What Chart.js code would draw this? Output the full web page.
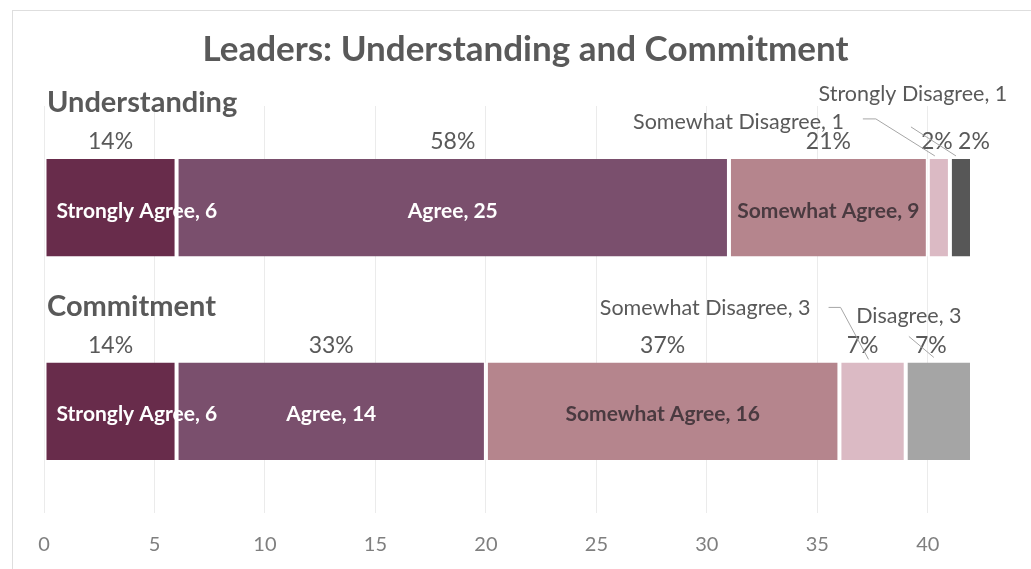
<!DOCTYPE html>
<html>
<head>
<meta charset="utf-8">
<script src="https://cdn.jsdelivr.net/npm/chart.js@4.4.1/dist/chart.umd.min.js"></script>
<style>
    html, body { margin: 0; padding: 0; background: #fff; overflow: hidden; }
    #frame {
        position: absolute; left: 12px; top: 10px; right: -4px; bottom: -4px;
        border: 1px solid #dedede;
    }
    #chart { position: absolute; left: 0; top: 0; }
</style>
</head>
<body>
<div id="frame"></div>
<canvas id="chart" width="1031" height="569"></canvas>
<script>
// ===== DATA =====
var chartTitle = 'Leaders: Understanding and Commitment';
var categories = ['Understanding', 'Commitment'];
var seriesNames = ['Strongly Agree', 'Agree', 'Somewhat Agree', 'Somewhat Disagree', 'Disagree', 'Strongly Disagree'];
// counts per category, one entry per series
var understandingCounts = [6, 25, 9, 1, 0, 1];
var commitmentCounts = [6, 14, 16, 3, 3, 0];
// share labels shown above each segment
var understandingPct = ['14%', '58%', '21%', '2%', '', '2%'];
var commitmentPct = ['14%', '33%', '37%', '7%', '7%', ''];
var xTicks = [0, 5, 10, 15, 20, 25, 30, 35, 40];

// ===== STYLE =====
var FONT = 'Lato, "Open Sans", sans-serif';
var GREY_TEXT = '#595959';
var seriesColors = ['#682c4b', '#7a4f6d', '#b5858d', '#dbbac4', '#a5a5a5', '#575757'];
// inside-label colour per series (null = label drawn outside with a leader line)
var insideColors = ['#ffffff', '#ffffff', '#4a3a40', null, null, null];

// placement of the labels that sit outside the small segments,
// relative to the top-centre of the segment
var outsideLabels = [
    { row: 0, s: 3, tx: -95, ty: -37, align: 'right', pctDx: -2,
      line: [[-76, -40], [-63, -40], [-4, -3]] },
    { row: 0, s: 5, tx: -48, ty: -65, align: 'center', pctDx: 13,
      line: [[-50, -32], [-5, -3]] },
    { row: 1, s: 3, tx: -62, ty: -54, align: 'right', pctDx: -10,
      line: [[-44, -55], [-32, -55], [-4, -3]] },
    { row: 1, s: 4, tx: -30, ty: -46, align: 'center', pctDx: -8,
      line: [[-30, -26], [-5, -5]] }
];

var pctByRow = [understandingPct, commitmentPct];
var countsByRow = [understandingCounts, commitmentCounts];

function findOutside(row, s) {
    for (var i = 0; i < outsideLabels.length; i++) {
        if (outsideLabels[i].row === row && outsideLabels[i].s === s) return outsideLabels[i];
    }
    return null;
}

// ===== LABEL PLUGIN =====
var labelPlugin = {
    id: 'segmentLabels',
    afterDatasetsDraw: function(chart) {
        var ctx = chart.ctx;
        ctx.save();

        // title, centred on the framed box
        ctx.font = 'bold 35px ' + FONT;
        ctx.fillStyle = GREY_TEXT;
        ctx.textAlign = 'center';
        ctx.textBaseline = 'middle';
        ctx.fillText(chartTitle, (chart.width + 20) / 2, 50);

        // category names above each bar
        var firstMeta = chart.getDatasetMeta(0);
        ctx.font = 'bold 29px ' + FONT;
        ctx.textAlign = 'left';
        for (var r = 0; r < categories.length; r++) {
            var b = firstMeta.data[r];
            ctx.fillText(categories[r], chart.chartArea.left + 3, b.y - b.height / 2 - 56);
        }

        for (var s = 0; s < seriesNames.length; s++) {
            var meta = chart.getDatasetMeta(s);
            for (var row = 0; row < categories.length; row++) {
                var value = countsByRow[row][s];
                if (!value) continue;
                var bar = meta.data[row];
                var left = Math.min(bar.base, bar.x);
                var right = Math.max(bar.base, bar.x);
                var cx = (left + right) / 2;
                var top = bar.y - bar.height / 2;
                var out = findOutside(row, s);

                // percentage above the segment
                ctx.font = '23px ' + FONT;
                ctx.fillStyle = GREY_TEXT;
                ctx.textAlign = 'center';
                ctx.textBaseline = 'middle';
                ctx.fillText(pctByRow[row][s], cx + (out ? out.pctDx : 0), top - 17);

                var text = seriesNames[s] + ', ' + value;
                if (out) {
                    ctx.font = '21.5px ' + FONT;
                    ctx.fillStyle = GREY_TEXT;
                    ctx.textAlign = out.align;
                    ctx.fillText(text, cx + out.tx, top + out.ty);
                    ctx.strokeStyle = '#a6a6a6';
                    ctx.lineWidth = 1;
                    ctx.beginPath();
                    for (var p = 0; p < out.line.length; p++) {
                        var px = cx + out.line[p][0];
                        var py = top + out.line[p][1];
                        if (p === 0) ctx.moveTo(px, py); else ctx.lineTo(px, py);
                    }
                    ctx.stroke();
                } else {
                    ctx.font = 'bold 21px ' + FONT;
                    ctx.fillStyle = insideColors[s];
                    if (s === 0) {
                        ctx.textAlign = 'left';
                        ctx.fillText(text, left + 12, bar.y + 3);
                    } else {
                        ctx.textAlign = 'center';
                        ctx.fillText(text, cx, bar.y + 3);
                    }
                }
            }
        }
        ctx.restore();
    }
};

// ===== BUILD CHART =====
var datasets = [];
for (var i = 0; i < seriesNames.length; i++) {
    datasets.push({
        label: seriesNames[i],
        data: [understandingCounts[i], commitmentCounts[i]],
        backgroundColor: seriesColors[i],
        borderColor: '#ffffff',
        borderWidth: { left: 2, right: 2, top: 0, bottom: 0 },
        borderSkipped: false,
        barPercentage: 0.48,
        categoryPercentage: 1
    });
}

var ctx = document.getElementById('chart').getContext('2d');
window.myChart = new Chart(ctx, {
    type: 'bar',
    data: { labels: categories, datasets: datasets },
    plugins: [labelPlugin],
    options: {
        indexAxis: 'y',
        responsive: false,
        animation: false,
        // top padding leaves room for the title drawn by the plugin
        layout: { padding: { left: 44, right: 59, top: 106, bottom: -8 } },
        plugins: {
            legend: { display: false },
            tooltip: { enabled: false },
            title: { display: false }
        },
        scales: {
            x: {
                stacked: true,
                min: 0,
                max: 42,
                afterBuildTicks: function(axis) {
                    axis.ticks = xTicks.map(function(v) { return { value: v }; });
                },
                ticks: {
                    color: '#7f7f7f',
                    font: { family: FONT, size: 20 },
                    padding: 20
                },
                grid: { color: '#ebebeb', drawTicks: false },
                border: { display: false }
            },
            y: {
                stacked: true,
                display: false
            }
        }
    }
});
</script>
</body>
</html>
